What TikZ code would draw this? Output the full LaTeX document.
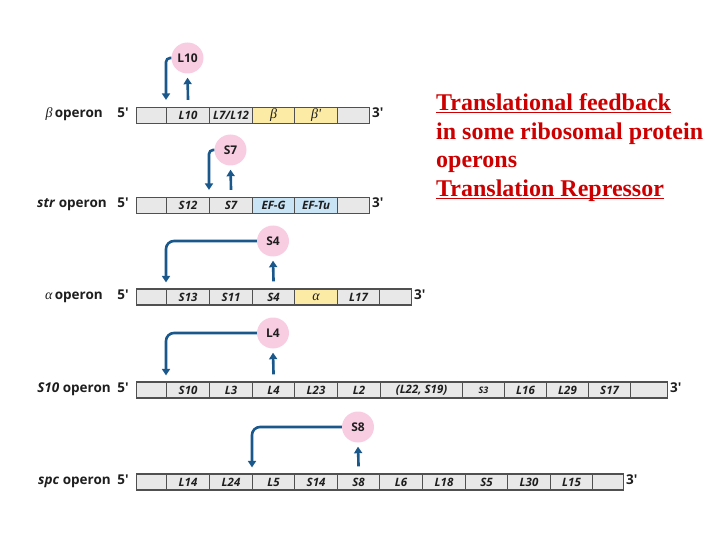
\documentclass[tikz,border=0pt]{standalone}
\usepackage{fontspec}
\newfontfamily\labf{Open Sans}
\newfontfamily\serf{Liberation Serif}
\usetikzlibrary{arrows.meta,shapes.geometric}
\definecolor{segGray}{RGB}{232,232,232}
\definecolor{segYel}{RGB}{252,235,165}
\definecolor{segBlue}{RGB}{200,228,245}
\definecolor{segLine}{RGB}{80,80,80}
\definecolor{arrBlue}{RGB}{26,88,140}
\definecolor{protPink}{RGB}{248,205,225}
\definecolor{titleRed}{RGB}{204,0,0}
\definecolor{txtDark}{RGB}{30,30,30}
\tikzset{
  seg/.style={draw=segLine, line width=1.1pt, minimum height=16pt, inner sep=0pt, anchor=west,
    font=\labf\bfseries\itshape\fontsize{11.5}{13}\selectfont, text=txtDark},
  prot/.style={ellipse, fill=protPink, minimum width=32pt, minimum height=31pt, inner sep=0pt,
    font=\labf\bfseries\fontsize{12}{14}\selectfont, text=txtDark},
  oplab/.style={inner sep=0pt, font=\labf\bfseries\fontsize{13.5}{15}\selectfont, text=txtDark},
  arr/.style={draw=arrBlue, line width=2.6pt, -{Triangle[length=6.5pt,width=8pt]}},
}
\newcommand\gseg[6]{\node[seg, fill=#5, minimum width=#3pt] (#1) at (#2,#4) {#6};}
\newcommand\grk[1]{{\serf\itshape\mdseries\fontsize{14}{15}\selectfont #1}}
\newcommand\prm{\textquotesingle}
\begin{document}
\begin{tikzpicture}[x=1pt,y=-1pt]
\useasboundingbox (0,0) rectangle (720,540);
% beta operon
\gseg{b0}{136}{30}{115.5}{segGray}{}
\gseg{b1}{166}{43}{115.5}{segGray}{L10}
\gseg{b2}{209}{43}{115.5}{segGray}{L7/L12}
\gseg{b3}{252}{42}{115.5}{segYel}{\grk{β}}
\gseg{b4}{294}{43}{115.5}{segYel}{\grk{β\prm}}
\gseg{b5}{337}{32}{115.5}{segGray}{}
\node[oplab, anchor=mid east] (lb) at (103,115.5) {\grk{β}\,operon};
\node[oplab, anchor=mid] (lb5) at (123,115.5) {5\prm};
\node[oplab, anchor=mid west] (lb3) at (372,115.5) {3\prm};
% str operon
\gseg{s0}{136}{30}{205.5}{segGray}{}
\gseg{s1}{166}{43}{205.5}{segGray}{S12}
\gseg{s2}{209}{43}{205.5}{segGray}{S7}
\gseg{s3}{252}{42}{205.5}{segBlue}{EF-G}
\gseg{s4}{294}{43}{205.5}{segBlue}{EF-Tu}
\gseg{s5}{337}{32}{205.5}{segGray}{}
\node[oplab, anchor=mid east] (ls) at (107,205.5) {\textit{str} operon};
\node[oplab, anchor=mid] (ls5) at (123,205.5) {5\prm};
\node[oplab, anchor=mid west] (ls3) at (372,205.5) {3\prm};
% alpha operon
\gseg{a0}{136}{30}{297}{segGray}{}
\gseg{a1}{166}{43}{297}{segGray}{S13}
\gseg{a2}{209}{43}{297}{segGray}{S11}
\gseg{a3}{252}{42}{297}{segGray}{S4}
\gseg{a4}{294}{43}{297}{segYel}{\grk{α}}
\gseg{a5}{337}{42}{297}{segGray}{L17}
\gseg{a6}{379}{32}{297}{segGray}{}
\node[oplab, anchor=mid east] (la) at (103,297) {\grk{α}\,operon};
\node[oplab, anchor=mid] (la5) at (123,297) {5\prm};
\node[oplab, anchor=mid west] (la3) at (414,297) {3\prm};
% S10 operon
\gseg{t0}{136}{30}{390}{segGray}{}
\gseg{t1}{166}{43}{390}{segGray}{S10}
\gseg{t2}{209}{43}{390}{segGray}{L3}
\gseg{t3}{252}{42}{390}{segGray}{L4}
\gseg{t4}{294}{43}{390}{segGray}{L23}
\gseg{t5}{337}{43}{390}{segGray}{L2}
\gseg{t6}{380}{82}{390}{segGray}{(L22, S19)}
\gseg{t7}{462}{42}{390}{segGray}{\fontsize{9}{10}\selectfont S3}
\gseg{t8}{504}{42}{390}{segGray}{L16}
\gseg{t9}{546}{42}{390}{segGray}{L29}
\gseg{t10}{588}{42}{390}{segGray}{S17}
\gseg{t11}{630}{37}{390}{segGray}{}
\node[oplab, anchor=mid east] (lt) at (111,390) {\textit{S10} operon};
\node[oplab, anchor=mid] (lt5) at (123,390) {5\prm};
\node[oplab, anchor=mid west] (lt3) at (670,390) {3\prm};
% spc operon
\gseg{p0}{136}{30}{482}{segGray}{}
\gseg{p1}{166}{43}{482}{segGray}{L14}
\gseg{p2}{209}{43}{482}{segGray}{L24}
\gseg{p3}{252}{42}{482}{segGray}{L5}
\gseg{p4}{294}{43}{482}{segGray}{S14}
\gseg{p5}{337}{42}{482}{segGray}{S8}
\gseg{p6}{379}{43}{482}{segGray}{L6}
\gseg{p7}{422}{43}{482}{segGray}{L18}
\gseg{p8}{465}{42}{482}{segGray}{S5}
\gseg{p9}{507}{43}{482}{segGray}{L30}
\gseg{p10}{550}{42}{482}{segGray}{L15}
\gseg{p11}{592}{31}{482}{segGray}{}
\node[oplab, anchor=mid east] (lp) at (111,482) {\textit{spc} operon};
\node[oplab, anchor=mid] (lp5) at (123,482) {5\prm};
\node[oplab, anchor=mid west] (lp3) at (626,482) {3\prm};
% repressor proteins
\node[prot] (pL10) at (187.5,58) {L10};
\node[prot] (pS7) at (230.5,150) {S7};
\node[prot] (pS4) at (273,241) {S4};
\node[prot] (pL4) at (273,333) {L4};
\node[prot] (pS8) at (358,427) {S8};
% feedback arrows
\draw[arr, rounded corners=4pt] (pL10.west) -| ([yshift=7pt]b1.north west);
\draw[arr] ([yshift=7pt]b1.north) -- ([yshift=-4pt]pL10.south);
\draw[arr, rounded corners=4pt] (pS7.west) -| ([yshift=7pt]s2.north west);
\draw[arr] ([yshift=7pt]s2.north) -- ([yshift=-4pt]pS7.south);
\draw[arr, rounded corners=8pt] (pS4.west) -| ([yshift=6pt]a1.north west);
\draw[arr] ([yshift=7pt]a3.north) -- ([yshift=-4pt]pS4.south);
\draw[arr, rounded corners=8pt] (pL4.west) -| ([yshift=6pt]t1.north west);
\draw[arr] ([yshift=7pt]t3.north) -- ([yshift=-4pt]pL4.south);
\draw[arr, rounded corners=8pt] (pS8.west) -| ([yshift=6pt]p3.north west);
\draw[arr] ([yshift=7pt]p5.north) -- ([yshift=-4pt]pS8.south);
% title text
\node[anchor=north west, inner sep=0pt, align=left, text=titleRed,
  font=\serf\bfseries\fontsize{24}{28.7}\selectfont] (title) at (436,93.5)
  {\underline{Translational feedback}\\in some ribosomal protein\\operons\\\underline{\smash{Translation Repressor}\vphantom{T}}};
\end{tikzpicture}
\end{document}
